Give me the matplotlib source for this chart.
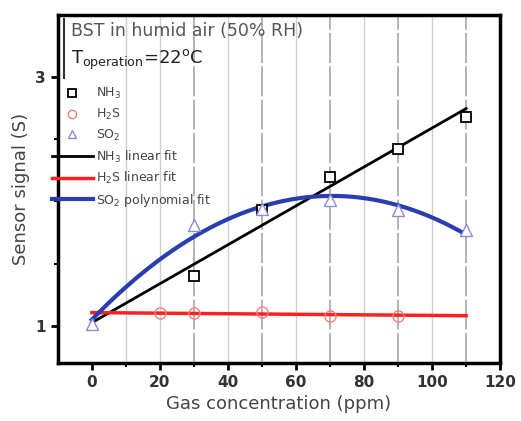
import numpy as np
import matplotlib
matplotlib.use("Agg")
import matplotlib.pyplot as plt
from matplotlib.lines import Line2D

# gas concentrations (ppm) and sensor signals
x_nh3 = [0, 30, 50, 70, 90, 110]
s_nh3 = [1.00, 1.40, 1.93, 2.20, 2.42, 2.68]

x_h2s = [20, 30, 50, 70, 90]
s_h2s = [1.10, 1.10, 1.11, 1.08, 1.08]

x_so2 = [0, 30, 50, 70, 90, 110]
s_so2 = [1.01, 1.81, 1.94, 2.01, 1.93, 1.77]

# fit end points (ppm)
fit_range = [0, 110]
h2s_fit_ends = [1.105, 1.08]

fig = plt.figure(figsize=(5.21, 4.21), dpi=100)
ax = fig.add_axes([0.111, 0.138, 0.849, 0.826])

# vertical grid lines
for gx in np.arange(10, 120, 10):
    if gx in x_nh3:
        ax.axvline(gx, color='#a8a8a8', lw=1.2, ls=(0, (18, 2)), zorder=0)
    else:
        ax.axvline(gx, color='#cfcfcf', lw=1.0, zorder=0)

xf = np.linspace(fit_range[0], fit_range[1], 200)

# fits
p_nh3 = np.polyfit(x_nh3, s_nh3, 1)
p_so2 = np.polyfit(x_so2, s_so2, 2)
ax.plot(xf, np.polyval(p_nh3, xf), color='black', lw=2.0, zorder=2)
ax.plot(fit_range, h2s_fit_ends, color='#ff2020', lw=2.5, zorder=2)
ax.plot(xf, np.polyval(p_so2, xf), color='#2a3db0', lw=3.0, zorder=3)

# data points
ax.plot(x_nh3[1:], s_nh3[1:], ls='none', marker='s', ms=7, mfc='white',
        mec='black', mew=1.3, zorder=4)
ax.plot(x_h2s, s_h2s, ls='none', marker='o', ms=8, mfc='none',
        mec='#f08080', mew=1.0, zorder=4)
ax.plot(x_so2, s_so2, ls='none', marker='^', ms=8, mfc='white',
        mec='#8a8ad8', mew=1.0, zorder=4)

ax.set_xlim(-10, 120)
ax.set_ylim(0.7, 3.5)
ax.set_xticks(np.arange(0, 121, 20))
ax.set_xticks(np.arange(10, 120, 20), minor=True)
ax.set_yticks([1, 3])
ax.set_yticks([1.5, 2, 2.5], minor=True)
ax.tick_params(which='major', direction='out', length=5, width=2,
               labelsize=11)
ax.tick_params(which='minor', direction='out', length=3, width=1.5)
for lbl in ax.get_xticklabels() + ax.get_yticklabels():
    lbl.set_fontweight('bold')
    lbl.set_color('#333333')
for sp in ax.spines.values():
    sp.set_linewidth(2.5)

ax.set_xlabel('Gas concentration (ppm)', fontsize=13, color='#444444')
ax.set_ylabel('Sensor signal (S)', fontsize=13, color='#444444')

# header text
ax.text(0.03, 0.955, 'BST in humid air (50% RH)', transform=ax.transAxes,
        fontsize=12.5, color='#555555', va='center')
ax.text(0.03, 0.87, r'T$_{\mathregular{operation}}$=22$^{\mathregular{o}}$C',
        transform=ax.transAxes, fontsize=13, color='#222222', va='center')
ax.plot([0.015, 0.015], [0.82, 0.99], transform=ax.transAxes,
        color='#333333', lw=1.5)

handles = [
    Line2D([], [], ls='none', marker='s', ms=6, mfc='white', mec='black', mew=1.3),
    Line2D([], [], ls='none', marker='o', ms=6, mfc='none', mec='#f08080'),
    Line2D([], [], ls='none', marker='^', ms=6, mfc='white', mec='#8a8ad8'),
    Line2D([], [], color='black', lw=2.0),
    Line2D([], [], color='#ff2020', lw=2.5),
    Line2D([], [], color='#2a3db0', lw=3.0),
]
labels = [r'NH$_3$', r'H$_2$S', r'SO$_2$', r'NH$_3$ linear fit',
          r'H$_2$S linear fit', r'SO$_2$ polynomial fit']
leg = ax.legend(handles, labels, loc='upper left',
                bbox_to_anchor=(-0.025, 0.81), frameon=False, fontsize=9,
                handlelength=3.3, handletextpad=0.2, labelspacing=0.45,
                borderaxespad=0)
for t in leg.get_texts():
    t.set_color('#444444')

fig.savefig('out.png', dpi=100)
